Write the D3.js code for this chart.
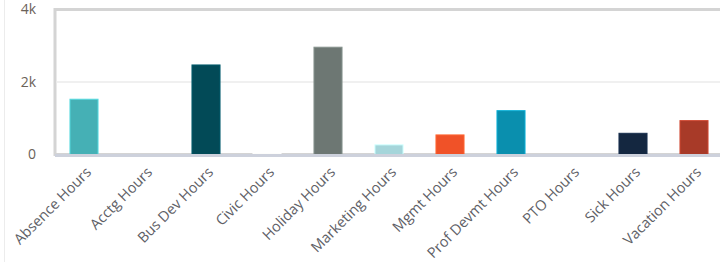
<!DOCTYPE html>
<html><head><meta charset="utf-8">
<script src="https://cdn.jsdelivr.net/npm/d3@7"></script>
<style>
html,body{margin:0;padding:0;background:#fff;}
svg{display:block;font-family:"Open Sans",sans-serif;}
</style></head>
<body>
<script>
const categories = ["Absence Hours","Acctg Hours","Bus Dev Hours","Civic Hours","Holiday Hours","Marketing Hours","Mgmt Hours","Prof Devmt Hours","PTO Hours","Sick Hours","Vacation Hours"];
const values = [1525, 0, 2470, 30, 2960, 265, 540, 1210, 0, 585, 935];
const colors = ["#45b0b5","#cccccc","#024a57","#f1edd2","#6d7773","#a5d5da","#f05228","#0a8fae","#cccccc","#142740","#a83a28"];
const yTicks = [0, 2000, 4000];
const yTickLabels = ["0","2k","4k"];

const W = 720, H = 262;
const svg = d3.select("body").append("svg").attr("width", W).attr("height", H);

const x = d3.scaleBand().domain(categories).range([53.5, 724.5]).paddingInner(0.54).paddingOuter(0.27);
const y = d3.scaleLinear().domain([0, 4000]).range([154.5, 9.5]);

svg.append("line").attr("x1",4.5).attr("x2",4.5).attr("y1",0).attr("y2",H).attr("stroke","#ececec").attr("stroke-width",1);

svg.append("rect").attr("x",55).attr("y",y(4000)).attr("width",W).attr("height",y(0)-y(4000))
  .attr("fill","none").attr("stroke","#d4d4d4").attr("stroke-width",3);

svg.append("g").selectAll("line").data(yTicks.filter(d=>d>0 && d<4000)).join("line")
  .attr("x1",56).attr("x2",W).attr("y1",d=>y(d)).attr("y2",d=>y(d))
  .attr("stroke","#ebebeb").attr("stroke-width",1.5);

const yAxis = d3.axisLeft(y).tickValues(yTicks).tickFormat((d,i)=>yTickLabels[i]).tickSize(0).tickPadding(0);
const gy = svg.append("g").attr("transform","translate(36,0)").call(yAxis);
gy.select(".domain").remove();
gy.selectAll("text").attr("fill","#6b6259").style("font-size","14px").style("font-family","'Open Sans',sans-serif");

svg.append("g").selectAll("rect").data(categories).join("rect")
  .attr("x",d=>x(d)).attr("width",x.bandwidth())
  .attr("y",(d,i)=>y(values[i])).attr("height",(d,i)=>y(0)-y(values[i]))
  .attr("fill",(d,i)=>colors[i])
  .attr("stroke",(d,i)=>d3.color(colors[i]).brighter(0.6))
  .attr("stroke-width",(d,i)=>values[i]>0?1:0);

svg.append("line").attr("x1",55).attr("x2",W).attr("y1",y(0)+1).attr("y2",y(0)+1)
  .attr("stroke","#cdd1dc").attr("stroke-width",3);

const xAxis = d3.axisBottom(x).tickSize(0).tickPadding(0);
const gx = svg.append("g").attr("transform","translate(0,166)").call(xAxis);
gx.select(".domain").remove();
gx.selectAll("text")
  .attr("fill","#5e6066")
  .style("font-size","14.5px").style("font-family","'Open Sans',sans-serif")
  .attr("text-anchor","end").attr("dy","0.7em").attr("dx","0")
  .attr("transform","translate(1,0) rotate(-45)");
</script>
</body></html>
